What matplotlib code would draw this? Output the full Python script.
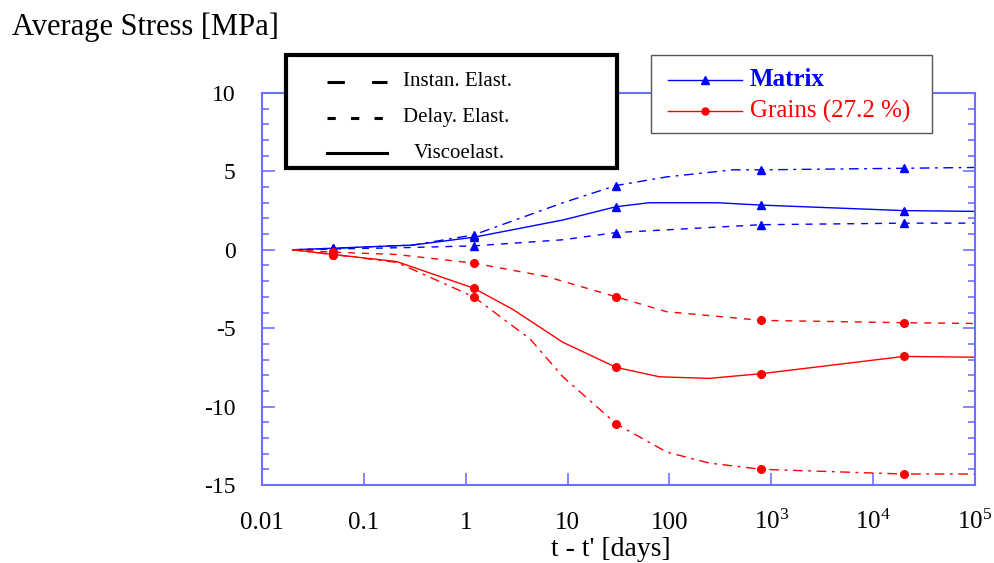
import numpy as np
import matplotlib.pyplot as plt
from matplotlib.lines import Line2D
from matplotlib.patches import Rectangle
from matplotlib.ticker import FixedLocator, MultipleLocator, NullLocator

plt.rcParams['font.family'] = ['Liberation Serif', 'DejaVu Serif']
plt.rcParams['axes.unicode_minus'] = False

# values (time in days, stress in MPa)
mark_t = [0.05, 1.2, 30, 800, 2e4]

mat_inst_t = [0.02, 0.05, 0.3, 1.2, 9, 30, 94, 420, 800, 2e4, 1e5]
mat_inst_v = [0, 0.1, 0.3, 0.95, 3.0, 4.1, 4.65, 5.1, 5.1, 5.2, 5.25]
mat_visc_t = [0.02, 0.05, 0.3, 1.2, 9, 30, 63, 300, 800, 2e4, 1e5]
mat_visc_v = [0, 0.1, 0.3, 0.8, 1.9, 2.75, 3.0, 3.0, 2.85, 2.5, 2.45]
mat_del_t = [0.02, 0.05, 0.3, 1.2, 9, 30, 800, 2e4, 1e5]
mat_del_v = [0, 0.05, 0.15, 0.25, 0.64, 1.1, 1.6, 1.7, 1.7]

gr_inst_t = [0.02, 0.05, 0.21, 1.2, 4.3, 9, 30, 94, 245, 800, 2e4, 1e5]
gr_inst_v = [0, -0.3, -0.8, -3.0, -5.7, -8.1, -11.1, -12.9, -13.6, -14.0, -14.3, -14.3]
gr_visc_t = [0.02, 0.05, 0.21, 1.2, 2.9, 9, 30, 80, 245, 800, 2e4, 1e5]
gr_visc_v = [0, -0.3, -0.75, -2.45, -3.8, -5.9, -7.5, -8.1, -8.2, -7.9, -6.8, -6.85]
gr_del_t = [0.02, 0.05, 0.21, 1.2, 6.2, 30, 94, 800, 2e4, 1e5]
gr_del_v = [0, -0.15, -0.3, -0.85, -1.7, -3.0, -3.95, -4.5, -4.65, -4.7]

xticks = [0.01, 0.1, 1, 10, 100, 1e3, 1e4, 1e5]
xticklabels = ['0.01', '0.1', '1', '10', '100',
               r'$\mathregular{10^3}$', r'$\mathregular{10^4}$', r'$\mathregular{10^5}$']

style_labels = ['Instan. Elast.', 'Delay. Elast.', 'Viscoelast.']
mat_labels = ['Matrix', 'Grains (27.2 %)']

blue = '#0000ff'
red = '#ff0000'
spine = '#6f6fff'
inst_ls = (0, (7, 4, 2, 4))
del_ls = (0, (5, 5))

W, H = 995, 563
fig = plt.figure(figsize=(W / 100, H / 100), dpi=100)
ax = fig.add_axes([262 / W, 1 - 485 / H, 713 / W, 392 / H])


def draw(t, v, color, ls, marker):
    ax.plot(t, v, color=color, ls=ls, lw=1.0)
    mt = [ti for ti in t if ti in mark_t]
    mv = [vi for ti, vi in zip(t, v) if ti in mark_t]
    ax.plot(mt, mv, ls='none', marker=marker, color=color, ms=5.5)


draw(mat_inst_t, mat_inst_v, blue, inst_ls, '^')
draw(mat_visc_t, mat_visc_v, blue, '-', '^')
draw(mat_del_t, mat_del_v, blue, del_ls, '^')
draw(gr_inst_t, gr_inst_v, red, inst_ls, 'o')
draw(gr_visc_t, gr_visc_v, red, '-', 'o')
draw(gr_del_t, gr_del_v, red, del_ls, 'o')

ax.set_xscale('log')
ax.set_xlim(0.01, 1e5)
ax.set_ylim(-15, 10)
ax.xaxis.set_major_locator(FixedLocator(xticks))
ax.xaxis.set_minor_locator(NullLocator())
ax.set_xticklabels(xticklabels)
ax.yaxis.set_major_locator(MultipleLocator(5))
ax.yaxis.set_minor_locator(MultipleLocator(1))

for s in ax.spines.values():
    s.set_color(spine)
    s.set_linewidth(1.5)
ax.tick_params(axis='x', which='major', direction='in', length=9, width=1.2,
               color=spine, labelsize=18, pad=32, top=False)
ax.tick_params(axis='y', which='major', direction='in', length=9, width=1.2,
               color=spine, labelsize=17, pad=19, right=True)
ax.tick_params(axis='y', which='minor', direction='in', length=5, width=1.2,
               color=spine, right=True)
for lab in ax.get_xticklabels():
    lab.set_va('baseline')

fig.text(611 / W, 1 - 550 / H, "t - t' [days]", fontsize=20, ha='center', va='center')
fig.text(12 / W, 1 - 27 / H, 'Average Stress [MPa]', fontsize=22, va='center', ha='left')


def fx(px):
    return px / W


def fy(py):
    return 1 - py / H


# line-style legend (drawn by hand to match the boxed key)
fig.add_artist(Rectangle((fx(286), fy(168)), fx(331), 113 / H, transform=fig.transFigure,
                         facecolor='white', edgecolor='black', lw=3, zorder=3))
style_ls = [(0, (5.7, 8.9)), (0, (2.7, 5.0)), '-']
for i, (lab, ls) in enumerate(zip(style_labels, style_ls)):
    yy = fy(82 + 35.5 * i)
    fig.add_artist(Line2D([fx(327), fx(387)], [yy, yy], transform=fig.transFigure,
                          color='black', lw=2.2, ls=ls, zorder=4))
    fig.text(fx(403 if i < 2 else 414), yy, lab, fontsize=15, va='center', ha='left', zorder=4)

# material legend
fig.add_artist(Rectangle((fx(651), fy(133)), fx(281), 78 / H, transform=fig.transFigure,
                         facecolor='white', edgecolor='#555555', lw=1, zorder=3))
for i, (lab, col, mk) in enumerate(zip(mat_labels, [blue, red], ['^', 'o'])):
    yy = fy(80 + 31 * i)
    fig.add_artist(Line2D([fx(668), fx(742)], [yy, yy], transform=fig.transFigure,
                          color=col, lw=1, zorder=4))
    fig.add_artist(Line2D([fx(705)], [yy], transform=fig.transFigure, color=col,
                          marker=mk, ms=5.5 if mk == '^' else 5, zorder=4))
    fig.text(fx(750), yy, lab, fontsize=18, color=col, va='center', ha='left', zorder=4,
             fontweight='bold' if i == 0 else 'normal')

fig.savefig('out.png', dpi=100)
